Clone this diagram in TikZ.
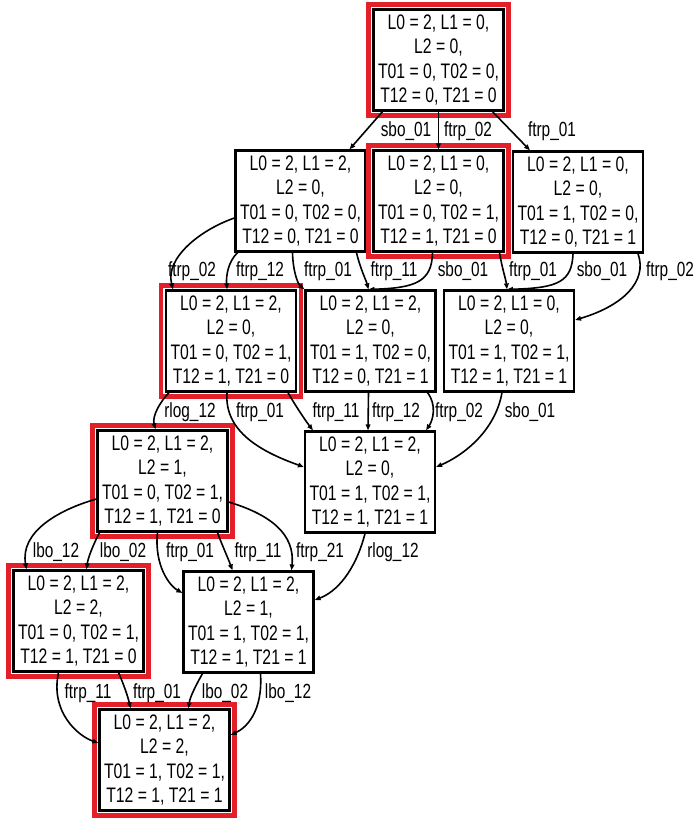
\documentclass[tikz,border=0pt]{standalone}
\usepackage{fontspec}
\setmainfont{Liberation Sans}[FakeStretch=0.75]
\usetikzlibrary{arrows.meta}
\definecolor{frame}{rgb}{0.89,0.12,0.16}
\tikzset{
  box/.style={draw, line width=2.2pt, minimum width=130pt, minimum height=101pt, align=center, inner sep=0pt,
    font=\fontsize{21}{24.5}\selectfont},
  con/.style={line width=1.6pt, -{Triangle[length=6pt,width=4.5pt]}},
  lab/.style={font=\fontsize{20.5}{22}\selectfont, inner sep=0pt, anchor=base},
  hl/.style={draw=frame, line width=4.5pt}
}
\begin{document}
\begin{tikzpicture}[x=1pt,y=-1pt]
\path[use as bounding box, fill=white] (0,0) rectangle (695,821);

% nodes
\node[box] (N0)  at (438.5,60)  {L0 = 2, L1 = 0,\\L2 = 0,\\T01 = 0, T02 = 0,\\T12 = 0, T21 = 0};
\node[box] (N1)  at (300.5,201) {L0 = 2, L1 = 2,\\L2 = 0,\\T01 = 0, T02 = 0,\\T12 = 0, T21 = 0};
\node[box] (N2)  at (438.5,201) {L0 = 2, L1 = 0,\\L2 = 0,\\T01 = 0, T02 = 1,\\T12 = 1, T21 = 0};
\node[box] (N3)  at (578,202)   {L0 = 2, L1 = 0,\\L2 = 0,\\T01 = 1, T02 = 0,\\T12 = 0, T21 = 1};
\node[box] (N4)  at (231,341)   {L0 = 2, L1 = 2,\\L2 = 0,\\T01 = 0, T02 = 1,\\T12 = 1, T21 = 0};
\node[box] (N5)  at (370.5,341) {L0 = 2, L1 = 2,\\L2 = 0,\\T01 = 1, T02 = 0,\\T12 = 0, T21 = 1};
\node[box] (N6)  at (509,341)   {L0 = 2, L1 = 0,\\L2 = 0,\\T01 = 1, T02 = 1,\\T12 = 1, T21 = 1};
\node[box] (N7)  at (370,482)   {L0 = 2, L1 = 2,\\L2 = 0,\\T01 = 1, T02 = 1,\\T12 = 1, T21 = 1};
\node[box] (N8)  at (162.5,481) {L0 = 2, L1 = 2,\\L2 = 1,\\T01 = 0, T02 = 1,\\T12 = 1, T21 = 0};
\node[box] (N9)  at (78.5,621)  {L0 = 2, L1 = 2,\\L2 = 2,\\T01 = 0, T02 = 1,\\T12 = 1, T21 = 0};
\node[box] (N10) at (248.5,622) {L0 = 2, L1 = 2,\\L2 = 1,\\T01 = 1, T02 = 1,\\T12 = 1, T21 = 1};
\node[box] (N11) at (164.5,760) {L0 = 2, L1 = 2,\\L2 = 2,\\T01 = 1, T02 = 1,\\T12 = 1, T21 = 1};

% red highlight frames
\foreach \n in {N0,N2,N4,N8,N9,N11}{
  \draw[hl] ([xshift=-4pt,yshift=-4pt]\n.south west) rectangle ([xshift=4pt,yshift=4pt]\n.north east);
}

% row 1 -> 2
\draw[con] ([xshift=-56pt]N0.south) -- ([xshift=49pt]N1.north);
\draw[con] (N0.south) -- (N2.north);
\draw[con] ([xshift=54pt]N0.south) -- ([xshift=-48pt]N3.north);
\node[lab] (l01) at (406,137) {sbo\_01};
\node[lab] (l02) at (468,137) {ftrp\_02};
\node[lab] (l03) at (552,137) {ftrp\_01};

% row 2 -> 3
\draw[con] ([yshift=-17pt]N1.west) .. controls (200,230) and (165,258) .. ([xshift=-58pt]N4.north);
\draw[con] ([xshift=-63pt]N1.south) .. controls (228,262) and (226,276) .. ([xshift=-4pt]N4.north);
\draw[con] ([xshift=-8pt]N1.south) .. controls (293,272) and (298,284) .. (N5.north west);
\draw[con] ([xshift=56pt]N1.south) .. controls (360,268) and (366,280) .. ([xshift=-2pt]N5.north);
\draw[con] ([xshift=-6pt]N2.south) .. controls (432,282) and (415,288) .. ([xshift=-2pt]N5.north);
\draw[con] ([xshift=61pt]N2.south) .. controls (502,268) and (506,280) .. ([xshift=-2pt]N6.north);
\draw[con] ([xshift=-5pt]N3.south) .. controls (572,282) and (558,288) .. ([xshift=-2pt]N6.north);
\draw[con] ([xshift=60pt]N3.south) .. controls (648,282) and (622,306) .. ([yshift=21pt]N6.east);
\node[lab] (l11) at (192,276) {ftrp\_02};
\node[lab] (l12) at (260,276) {ftrp\_12};
\node[lab] (l13) at (328,276) {ftrp\_01};
\node[lab] (l14) at (394,276) {ftrp\_11};
\node[lab] (l15) at (463,276) {sbo\_01};
\node[lab] (l16) at (533,276) {ftrp\_01};
\node[lab] (l17) at (602,276) {sbo\_01};
\node[lab] (l18) at (670,276) {ftrp\_02};

% row 3 -> 4
\draw[con] ([xshift=-62pt]N4.south) .. controls (160,402) and (152,416) .. ([xshift=-7pt]N8.north);
\draw[con] ([xshift=-4pt]N4.south) .. controls (224,432) and (262,452) .. ([yshift=15pt]N7.west);
\draw[con] ([xshift=57pt]N4.south) .. controls (295,405) and (305,420) .. ([xshift=-57pt]N7.north);
\draw[con] ([xshift=-2pt]N5.south) -- ([xshift=-2pt]N7.north);
\draw[con] ([xshift=57pt]N5.south) .. controls (437,405) and (433,420) .. ([xshift=56pt]N7.north);
\draw[con] ([xshift=-7pt]N6.south) .. controls (495,432) and (462,456) .. ([yshift=15pt]N7.east);
\node[lab] (l21) at (190,417) {rlog\_12};
\node[lab] (l22) at (260,417) {ftrp\_01};
\node[lab] (l23) at (336,417) {ftrp\_11};
\node[lab] (l24) at (396,417) {ftrp\_12};
\node[lab] (l25) at (459,417) {ftrp\_02};
\node[lab] (l26) at (530,417) {sbo\_01};

% row 4 -> 5
\draw[con] ([yshift=-18pt]N8.west) .. controls (58,510) and (20,532) .. ([xshift=-52pt]N9.north);
\draw[con] ([xshift=-63pt]N8.south) .. controls (93,545) and (88,558) .. ([xshift=8pt]N9.north);
\draw[con] ([xshift=-5pt]N8.south) .. controls (154,566) and (170,586) .. ([yshift=29pt]N10.west);
\draw[con] ([xshift=55pt]N8.south) .. controls (222,545) and (228,558) .. ([xshift=-16pt]N10.north);
\draw[con] ([yshift=-21pt]N8.east) .. controls (272,515) and (295,535) .. ([xshift=43pt]N10.north);
\draw[con] ([xshift=-5pt]N7.south) .. controls (355,572) and (336,592) .. ([yshift=22pt]N10.east);
\node[lab] (l31) at (56,557)  {lbo\_12};
\node[lab] (l32) at (123,557) {lbo\_02};
\node[lab] (l33) at (190,557) {ftrp\_01};
\node[lab] (l34) at (258,557) {ftrp\_11};
\node[lab] (l35) at (320,557) {ftrp\_21};
\node[lab] (l36) at (393,557) {rlog\_12};

% row 5 -> 6
\draw[con] ([xshift=-20pt]N9.south) .. controls (50,712) and (78,736) .. ([yshift=17pt]N11.west);
\draw[con] ([xshift=40pt]N9.south) .. controls (124,685) and (128,697) .. ([xshift=-34pt]N11.north);
\draw[con] ([xshift=-46pt]N10.south) .. controls (196,685) and (190,697) .. ([xshift=24pt]N11.north);
\draw[con] ([xshift=12pt]N10.south) .. controls (263,712) and (246,728) .. ([yshift=25pt]N11.east);
\node[lab] (l41) at (88,698)  {ftrp\_11};
\node[lab] (l42) at (157,698) {ftrp\_01};
\node[lab] (l43) at (225,698) {lbo\_02};
\node[lab] (l44) at (288,698) {lbo\_12};
\end{tikzpicture}
\end{document}
